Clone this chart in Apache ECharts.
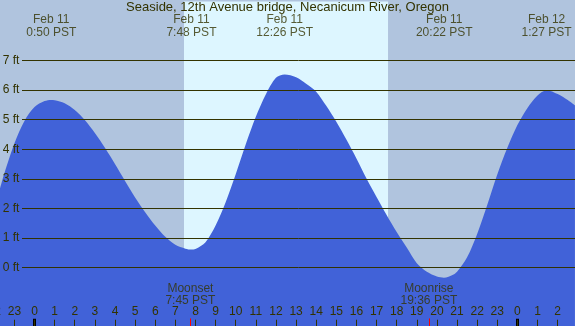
<!DOCTYPE html>
<html>
<head>
<meta charset="utf-8">
<script src="https://cdn.jsdelivr.net/npm/echarts@6/dist/echarts.min.js"></script>
<style>html,body{margin:0;padding:0;background:#b0c4de;}#c{width:575px;height:326px;}</style>
</head>
<body>
<div id="c"></div>
<script>
const titleText = 'Seaside, 12th Avenue bridge, Necanicum River, Oregon';
// tide curve: hours since midnight Feb 11, feet
const tideHours = [-1.715,-1.5,-1.0,-0.5,0.0,0.5,0.83,1.0,1.5,2.0,2.5,3.0,3.5,4.0,4.5,5.0,5.5,6.0,6.5,7.0,7.5,7.8,8.0,8.5,9.0,9.5,10.0,10.5,11.0,11.5,12.0,12.43,13.0,13.5,14.0,14.5,15.0,15.5,16.0,16.5,17.0,17.5,18.0,18.5,19.0,19.5,20.0,20.35,20.8,21.0,21.5,22.0,22.5,23.0,23.5,24.0,24.5,25.0,25.45,26.0,26.5,26.86];
const tideFeet  = [2.67,3.18,4.2,4.96,5.43,5.63,5.67,5.66,5.56,5.33,4.99,4.55,4.05,3.50,2.93,2.37,1.87,1.42,1.04,0.77,0.64,0.61,0.63,0.86,1.42,2.21,3.16,4.17,5.10,5.86,6.42,6.53,6.44,6.22,5.95,5.47,4.93,4.33,3.69,3.01,2.39,1.78,1.20,0.68,0.15,-0.14,-0.30,-0.34,-0.24,-0.14,0.35,1.14,2.12,3.15,4.05,4.82,5.40,5.82,6.0,5.87,5.67,5.49];
// high / low events
const eventHours = [0.833, 7.8, 12.433, 20.367, 25.45];
const eventDates = ['Feb 11','Feb 11','Feb 11','Feb 11','Feb 12'];
const eventTimes = ['0:50 PST','7:48 PST','12:26 PST','20:22 PST','1:27 PST'];
// moon events
const moonHours = [7.75, 19.6];
const moonNames = ['Moonset','Moonrise'];
const moonTimes = ['7:45 PST','19:36 PST'];
// daylight
const sunrise = 7.43, sunset = 17.57;
// midnights
const midnights = [0, 24];
// y tick labels
const feetTicks = [0,1,2,3,4,5,6,7];

const txt = '#333300';
const font = 'Liberation Sans';
const chart = echarts.init(document.getElementById('c'));

const yMin = -2, yMax = 9;
const splitColors = [];
for (let v = yMin; v <= yMax; v++) splitColors.push(feetTicks.indexOf(v) >= 0 ? txt : 'rgba(0,0,0,0)');

const markLines = [];
midnights.forEach(m => markLines.push([{coord:[m,-2]},{coord:[m,-1.73], lineStyle:{color:'#000',width:3}}]));
moonHours.forEach(m => markLines.push([{coord:[m,-2]},{coord:[m,-1.72], lineStyle:{color:'#ff0000',width:1}}]));

const gTop = 1.46, gH = 325.27;
chart.setOption({
  backgroundColor:'#b0c4de',
  animation:false,
  title:{text:titleText,left:'center',top:1,padding:0,textStyle:{color:txt,fontSize:13,fontWeight:'normal',fontFamily:font}},
  grid:[
    {left:-5.74,width:583.5,top:gTop,height:gH,containLabel:false,outerBoundsMode:'none'},
    {left:22,right:0,top:gTop,height:gH,containLabel:false,outerBoundsMode:'none'}
  ],
  xAxis:[
    {type:'value',min:-2,max:27,interval:1,z:10,
      axisLine:{show:false,onZero:false},splitLine:{show:false},
      axisTick:{inside:true,length:7,lineStyle:{color:txt,width:1}},
      axisLabel:{inside:true,margin:9,color:txt,fontSize:12,fontFamily:font,hideOverlap:false,showMinLabel:true,showMaxLabel:true,
        formatter:v=>String(((v%24)+24)%24)}},
    {type:'value',gridIndex:1,min:0,max:1,show:false}
  ],
  yAxis:[
    {type:'value',min:yMin,max:yMax,interval:1,z:10,
      axisLine:{show:false,onZero:false},splitLine:{show:false},axisTick:{show:false},
      axisLabel:{inside:true,margin:8.4,color:txt,fontSize:12,fontFamily:font,
        formatter:v=>(feetTicks.indexOf(v)>=0? v+' ft':'')}},
    {type:'value',gridIndex:1,min:yMin,max:yMax,interval:1,z:8,
      axisLine:{show:false,onZero:false},axisTick:{show:false},axisLabel:{show:false},
      splitLine:{show:true,lineStyle:{color:splitColors,width:1,type:'solid'}}}
  ],
  series:[
    {type:'line',data:[],z:1,silent:true,
      markArea:{silent:true,itemStyle:{color:'#ddf6ff'},data:[[{coord:[sunrise,-2]},{coord:[sunset,9]}]]}},
    {type:'line',data:tideHours.map((h,i)=>[h,tideFeet[i]]),smooth:0.3,showSymbol:false,z:2,
      lineStyle:{width:0},areaStyle:{color:'#4162d8',opacity:1,origin:'start'}},
    {type:'line',data:[],z:11,silent:true,
      markLine:{silent:true,symbol:'none',label:{show:false},
        lineStyle:{color:txt,width:1,type:'solid'},data:markLines}},
    {type:'scatter',z:12,symbolSize:0,silent:true,
      data:eventHours.map((h,i)=>({value:[h,8.15],label:{formatter:eventDates[i]+'\n'+eventTimes[i]}})),
      label:{show:true,position:'inside',color:txt,fontSize:12,fontFamily:font,lineHeight:13}},
    {type:'scatter',z:12,symbolSize:0,silent:true,
      data:moonHours.map((h,i)=>({value:[h,-0.92],label:{formatter:moonNames[i]+'\n'+moonTimes[i]}})),
      label:{show:true,position:'inside',color:txt,fontSize:12,fontFamily:font,lineHeight:12}}
  ]
});
</script>
</body>
</html>
